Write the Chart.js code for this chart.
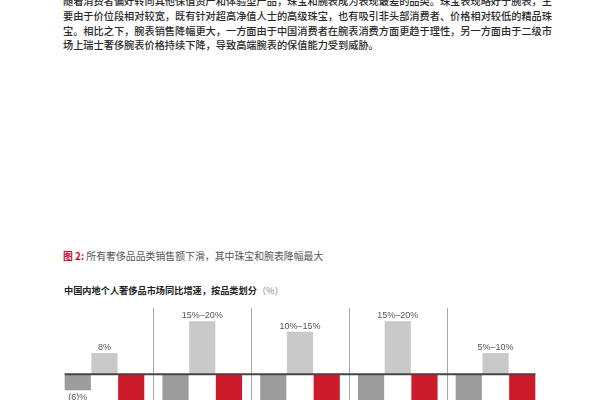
<!DOCTYPE html>
<html>
<head>
<meta charset="utf-8">
<script src="https://cdn.jsdelivr.net/npm/chart.js@4"></script>
<style>
  html, body { margin: 0; padding: 0; background: #fff; overflow: hidden; width: 600px; height: 400px; }
  body { position: relative; font-family: "Noto Sans CJK SC", "Noto Sans", sans-serif; }
  .para { position: absolute; left: 63px; width: 471px; font-size: 10.2px; line-height: 14.8px; color: #2a2a2a; font-weight: 500; text-align: justify; text-align-last: justify; white-space: nowrap; }
  .para.last { text-align-last: left; }
  #caption { position: absolute; left: 63px; top: 248.5px; font-size: 9.9px; color: #555; }
  #caption b { color: #c8102e; }
  #titel { position: absolute; left: 64px; top: 283px; font-size: 9.2px; font-weight: bold; color: #222; }
  #titel span { font-weight: normal; color: #888; }
  #graf-boks { position: absolute; left: 0; top: 300px; width: 600px; height: 170px; }
</style>
</head>
<body>
<div class="para" style="top:-6.4px">随着消费者偏好转向其他保值资产和体验型产品，珠宝和腕表成为表现最差的品类。珠宝表现略好于腕表，主</div>
<div class="para" style="top:8.6px">要由于价位段相对较宽，既有针对超高净值人士的高级珠宝，也有吸引非头部消费者、价格相对较低的精品珠</div>
<div class="para" style="top:23.6px">宝。相比之下，腕表销售降幅更大，一方面由于中国消费者在腕表消费方面更趋于理性，另一方面由于二级市</div>
<div class="para last" style="top:38.2px">场上瑞士奢侈腕表价格持续下降，导致高端腕表的保值能力受到威胁。</div>

<div id="caption"><b>图 2:</b> 所有奢侈品品类销售额下滑，其中珠宝和腕表降幅最大</div>
<div id="titel">中国内地个人奢侈品市场同比增速，按品类划分<span>（%）</span></div>

<div id="graf-boks"><canvas id="graf"></canvas></div>

<script>
"use strict";

// kategorier (navne er skåret væk i billedet)
const kategorier = ["美妆", "服装", "皮具", "珠宝", "腕表"];

// tre år pr. kategori
const aar2022 = [-6, -12, -11, -14, -13];
const aar2023 = [8, 20, 16, 20, 8];
const aar2024 = [-15, -20, -22, -28, -30];

const etiket2022 = ["(6)%", "(10)%–(15)%", "(10)%–(15)%", "(10)%–(15)%", "(10)%–(15)%"];
const etiket2023 = ["8%", "15%–20%", "10%–15%", "15%–20%", "5%–10%"];
const etiket2024 = ["(10)%–(15)%", "(15)%–(20)%", "(20)%–(25)%", "(25)%–(30)%", "(25)%–(30)%"];

const farver = ["#9c9c9c", "#c9c9c9", "#cc1c2c"];

const tegnPynt = {
  id: "tegnPynt",
  afterDatasetsDraw(chart) {
    const ctx = chart.ctx;
    const omr = chart.chartArea;
    const xs = chart.scales.x;
    const ys = chart.scales.y;
    const nul = ys.getPixelForValue(0);

    // skillelinjer mellem grupper
    ctx.save();
    ctx.strokeStyle = "#a8a8a8";
    ctx.lineWidth = 1;
    for (let i = 0; i < kategorier.length - 1; i++) {
      const x = Math.round((xs.getPixelForValue(i) + xs.getPixelForValue(i + 1)) / 2) + 0.5;
      ctx.beginPath();
      ctx.moveTo(x, omr.top);
      ctx.lineTo(x, omr.bottom);
      ctx.stroke();
    }

    // nullinje
    const foerste = chart.getDatasetMeta(0).data[0];
    const sidste = chart.getDatasetMeta(2).data[kategorier.length - 1];
    ctx.strokeStyle = "#444";
    ctx.lineWidth = 2;
    ctx.beginPath();
    ctx.moveTo(foerste.x - foerste.width / 2, nul);
    ctx.lineTo(sidste.x + sidste.width / 2, nul);
    ctx.stroke();

    // værdietiketter
    const etiketter = [etiket2022, etiket2023, etiket2024];
    ctx.font = "9px 'Liberation Sans', Arial, sans-serif";
    ctx.fillStyle = "#555";
    ctx.textAlign = "center";
    chart.data.datasets.forEach((ds, d) => {
      chart.getDatasetMeta(d).data.forEach((bar, i) => {
        const v = ds.data[i];
        if (v >= 0) {
          ctx.textBaseline = "bottom";
          ctx.fillText(etiketter[d][i], bar.x, bar.y - 1);
        } else {
          ctx.textBaseline = "top";
          ctx.fillText(etiketter[d][i], bar.x, bar.y + 3);
        }
      });
    });
    ctx.restore();
  }
};

new Chart(document.getElementById("graf").getContext("2d"), {
  type: "bar",
  data: {
    labels: kategorier,
    datasets: [
      { label: "2022", data: aar2022, backgroundColor: farver[0] },
      { label: "2023", data: aar2023, backgroundColor: farver[1] },
      { label: "2024", data: aar2024, backgroundColor: farver[2] }
    ]
  },
  options: {
    responsive: true,
    maintainAspectRatio: false,
    animation: false,
    layout: { padding: { left: 55.6, right: 55.6, top: 8, bottom: 3 } },
    datasets: { bar: { categoryPercentage: 0.82, barPercentage: 0.98 } },
    plugins: { legend: { display: false }, tooltip: { enabled: false } },
    scales: {
      x: { display: false },
      y: { display: false, min: -35, max: 25 }
    }
  },
  plugins: [tegnPynt]
});
</script>
</body>
</html>
